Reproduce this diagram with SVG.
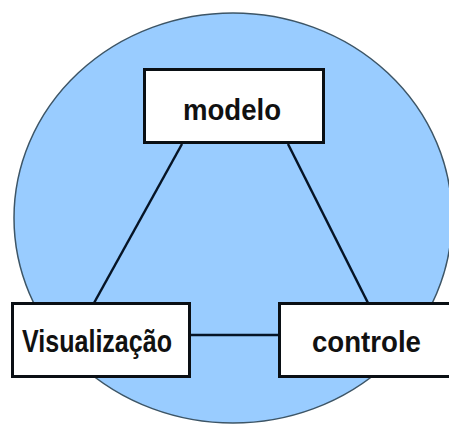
<svg xmlns="http://www.w3.org/2000/svg" width="449" height="425" viewBox="0 0 449 425">
<style>
.bg{fill:#99ccff;stroke:#3d5566;stroke-width:1.5}
.box{fill:#ffffff;stroke:#0a0f14;stroke-width:3}
.lbl{font-family:"Liberation Sans",Arial,sans-serif;font-weight:bold;fill:#111111;text-anchor:middle}
.conn{stroke:#061426;stroke-width:2.5;fill:none}
</style>
<rect x="0" y="0" width="449" height="425" fill="#ffffff"/>
<ellipse class="bg" cx="233" cy="218" rx="219" ry="205"/>
<g id="connectors">
<line class="conn" x1="182" y1="144" x2="94" y2="303"/>
<line class="conn" x1="288" y1="144" x2="368" y2="303"/>
<line class="conn" x1="190" y1="335" x2="279" y2="335"/>
</g>
<g id="modelo">
<rect class="box" x="144.5" y="69.5" width="179" height="73"/>
<text class="lbl" x="232" y="120" font-size="30" textLength="98" lengthAdjust="spacingAndGlyphs">modelo</text>
</g>
<g id="visualizacao">
<rect class="box" x="12.5" y="303.5" width="177" height="73"/>
<text class="lbl" x="97" y="352" font-size="32" textLength="150" lengthAdjust="spacingAndGlyphs">Visualização</text>
</g>
<g id="controle">
<rect class="box" x="279.5" y="303.5" width="180" height="73"/>
<text class="lbl" x="366.5" y="352" font-size="30" textLength="109" lengthAdjust="spacingAndGlyphs">controle</text>
</g>
</svg>
